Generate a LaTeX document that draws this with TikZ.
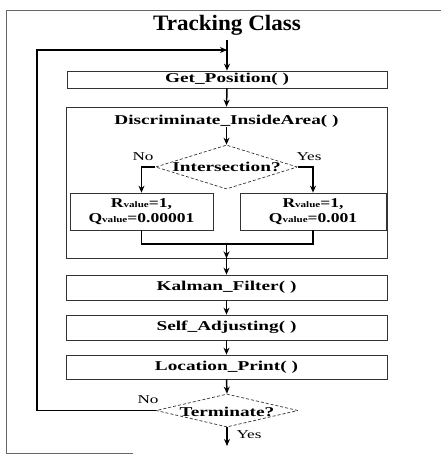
\documentclass[tikz,border=0pt]{standalone}
\usepackage{fontspec}
\setmainfont{Liberation Serif}
\newfontfamily\boxfont[FakeStretch=1.43]{Liberation Serif}
\newfontfamily\valfont[FakeStretch=1.3]{Liberation Serif}
\newfontfamily\titlefont[FakeStretch=1.05]{Liberation Serif}
\usetikzlibrary{shapes.geometric,arrows.meta}
\newcommand{\smallsub}[1]{{\fontsize{8.5}{9}\selectfont #1}}
\begin{document}
\begin{tikzpicture}[x=1pt,y=-1pt,
  box/.style={draw=black!80, line width=0.7pt, rectangle, inner sep=0pt,
    font=\boxfont\bfseries\fontsize{13.5}{15}\selectfont},
  valbox/.style={draw=black!80, line width=0.7pt, rectangle, inner sep=0pt, align=center,
    font=\valfont\bfseries\fontsize{13.5}{14.5}\selectfont},
  decision/.style={draw=black!80, line width=0.7pt, densely dashed, diamond, inner sep=0pt, aspect=3},
  lbl/.style={inner sep=0pt, font=\boxfont\bfseries\fontsize{13.5}{15}\selectfont},
  yn/.style={inner sep=0pt, font=\boxfont\fontsize{12}{13}\selectfont},
  conn/.style={line width=1.5pt, -{Stealth[length=7pt,width=6pt]}},
  plain/.style={line width=1.5pt},
  frame/.style={draw=black!60, line width=0.8pt}
]
\useasboundingbox (0,0) rectangle (441,455);
% outer frame
\draw[frame] (441,10) -- (6,10) -- (6,453) -- (133,453);
% title
\node[inner sep=0pt, font=\titlefont\bfseries\fontsize{22}{24}\selectfont] (title) at (227,25) {Tracking Class};
% boxes
\node[box, minimum width=320pt, minimum height=17pt] (gp) at (227,79.5) {Get\_Position( )};
\node[draw=black!80, line width=0.7pt, rectangle, inner sep=0pt, minimum width=321pt, minimum height=151pt] (disc) at (226.5,182.5) {};
\node[lbl] (disclbl) at (226.5,121) {Discriminate\_InsideArea( )};
\node[decision, minimum width=142pt, minimum height=44pt] (int) at (226.5,167) {};
\node[lbl] (inttxt) at (int.center) {Intersection?};
\node[valbox, minimum width=143pt, minimum height=37pt] (lbox) at (141.5,211.5) {R\smallsub{value}=1,\\Q\smallsub{value}=0.00001};
\node[valbox, minimum width=146pt, minimum height=37pt] (rbox) at (313,211.5) {R\smallsub{value}=1,\\Q\smallsub{value}=0.001};
\node[box, minimum width=321pt, minimum height=25pt] (kal) at (226.5,287.5) {Kalman\_Filter( )};
\node[box, minimum width=321pt, minimum height=25pt] (self) at (226.5,327.5) {Self\_Adjusting( )};
\node[box, minimum width=321pt, minimum height=24pt] (loc) at (226.5,367) {Location\_Print( )};
\node[decision, minimum width=142pt, minimum height=33pt] (term) at (227,410.5) {};
\node[lbl] (termtxt) at ([yshift=-1pt]term.center) {Terminate?};
% labels
\node[yn] (no1) at (143,157) {No};
\node[yn] (yes1) at (309,157) {Yes};
\node[yn] (no2) at (148,400) {No};
\node[yn] (yes2) at (249,435) {Yes};
% coordinates
\coordinate (start) at (227,40);
\coordinate (join) at (227,50);
\coordinate (loopTop) at (37,50);
\coordinate (m) at (226.5,244);
\coordinate (endpt) at (227,446);
% connectors
\draw[conn] (start) -- (gp.north);
\draw[conn] (term.west) -| (loopTop) -- (join);
\draw[conn] (gp.south) -- (disc.north);
\draw[conn] (disclbl.south) -- (int.north);
\draw[conn] (int.west) -| (lbox.north);
\draw[conn] (int.east) -| (rbox.north);
\draw[plain] (lbox.south) |- (m) -| (rbox.south);
\draw[conn] (m) -- (disc.south);
\draw[conn] (disc.south) -- (kal.north);
\draw[conn] (kal.south) -- (self.north);
\draw[conn] (self.south) -- (loc.north);
\draw[conn] (loc.south) -- (term.north);
\draw[conn] (term.south) -- (endpt);
\end{tikzpicture}
\end{document}
